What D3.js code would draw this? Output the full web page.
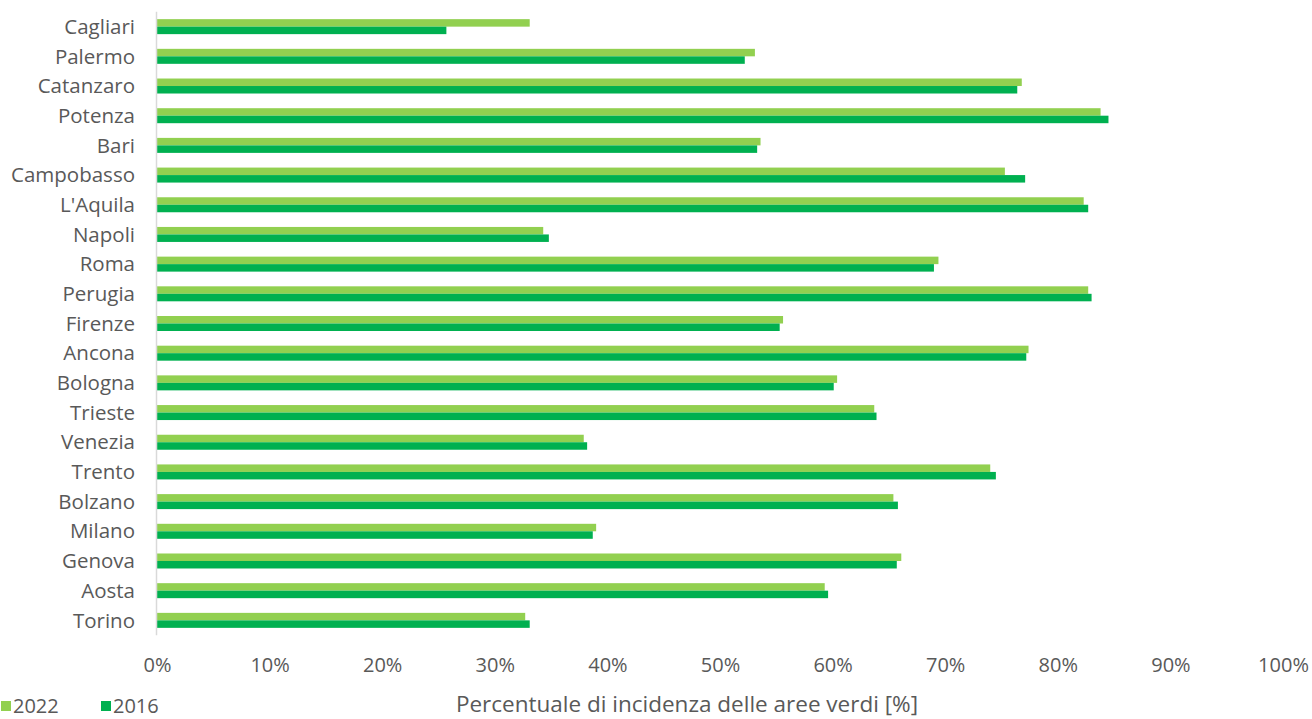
<!DOCTYPE html>
<html>
<head>
<meta charset="utf-8">
<script src="https://cdn.jsdelivr.net/npm/d3@7"></script>
<style>
  html, body { margin: 0; padding: 0; background: #fff; }
  svg { display: block; }
  text { font-family: "Open Sans", "Lato", sans-serif; fill: #595959; }
</style>
</head>
<body>
<svg id="chart" width="1312" height="719"></svg>
<script>
const categories = ["Cagliari","Palermo","Catanzaro","Potenza","Bari","Campobasso","L'Aquila","Napoli","Roma","Perugia","Firenze","Ancona","Bologna","Trieste","Venezia","Trento","Bolzano","Milano","Genova","Aosta","Torino"];
const values2022 = [33.1, 53.1, 76.8, 83.8, 53.6, 75.3, 82.3, 34.3, 69.4, 82.7, 55.6, 77.4, 60.4, 63.7, 37.9, 74.0, 65.4, 39.0, 66.1, 59.3, 32.7];
const values2016 = [25.7, 52.2, 76.4, 84.5, 53.3, 77.1, 82.7, 34.8, 69.0, 83.0, 55.3, 77.2, 60.1, 63.9, 38.2, 74.5, 65.8, 38.7, 65.7, 59.6, 33.1];
const seriesNames = ["2022", "2016"];
const seriesColors = ["#92D050", "#00B050"];
const xTicks = [0,10,20,30,40,50,60,70,80,90,100];
const xTitle = "Percentuale di incidenza delle aree verdi [%]";

const svg = d3.select("#chart");
const x = d3.scaleLinear().domain([0, 100]).range([157, 1283]);
const y = d3.scaleBand().domain(categories).range([11.8, 635.2]).paddingInner(0.495).paddingOuter(0.2475);
const sub = d3.scaleBand().domain(seriesNames).range([0, y.bandwidth()]);

const data = categories.map((c, i) => ({cat: c, vals: [values2022[i], values2016[i]]}));

const g = svg.append("g");
data.forEach(d => {
  seriesNames.forEach((s, j) => {
    g.append("rect")
      .attr("x", x(0))
      .attr("y", y(d.cat) + sub(s))
      .attr("width", x(d.vals[j]) - x(0))
      .attr("height", sub.bandwidth())
      .attr("fill", seriesColors[j]);
  });
});

// y axis line
svg.append("line")
  .attr("x1", 156.5).attr("x2", 156.5)
  .attr("y1", y.range()[0]).attr("y2", y.range()[1])
  .attr("stroke", "#d9d9d9").attr("stroke-width", 1.5);

// category labels
const yAxis = d3.axisLeft(y).tickSize(0).tickPadding(0);
const ya = svg.append("g").attr("transform", "translate(135,0)").call(yAxis);
ya.select(".domain").remove();
ya.selectAll("text").style("font-size", "20.5px").attr("fill", "#595959").attr("dy", "0.35em");

// x tick labels
const xAxis = d3.axisBottom(x).tickValues(xTicks).tickSize(0).tickPadding(0).tickFormat(d => d + "%");
const xa = svg.append("g").attr("transform", "translate(0,665)").call(xAxis);
xa.select(".domain").remove();
xa.selectAll("text").style("font-size", "20px").attr("fill", "#595959").attr("dy", "0.35em");

// axis title
svg.append("text")
  .attr("x", 687).attr("y", 704).attr("dy", "0.35em")
  .attr("text-anchor", "middle")
  .style("font-size", "22.5px")
  .text(xTitle);

// legend
const legendX = [1, 101];
seriesNames.forEach((s, j) => {
  svg.append("rect").attr("x", legendX[j]).attr("y", 701).attr("width", 10).attr("height", 10).attr("fill", seriesColors[j]);
  svg.append("text").attr("x", legendX[j] + 12).attr("y", 706).attr("dy", "0.35em")
    .style("font-size", "20px").text(s);
});
</script>
</body>
</html>
